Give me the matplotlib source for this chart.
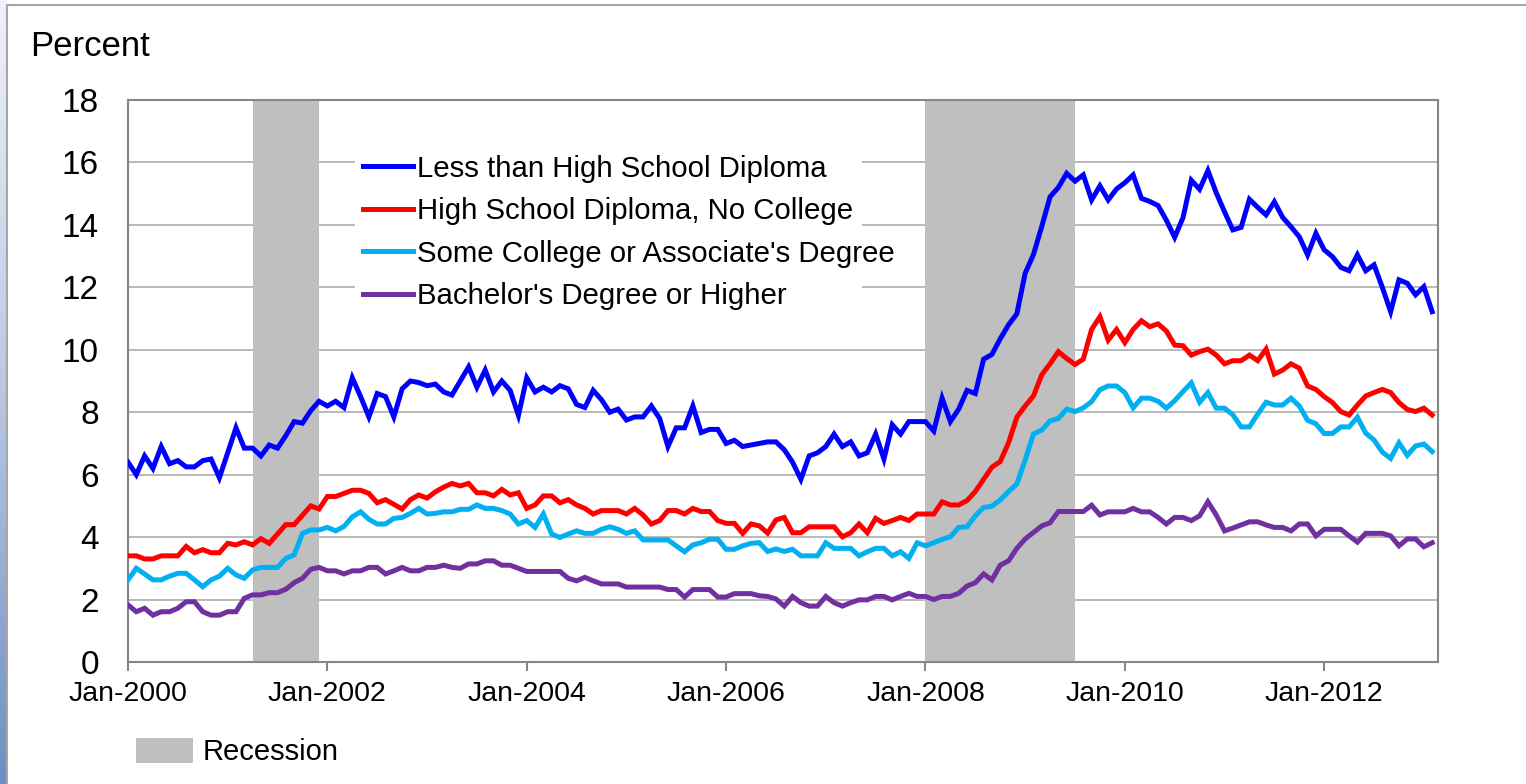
import numpy as np
import matplotlib.pyplot as plt
from matplotlib.patches import Patch, Rectangle
from matplotlib.colors import LinearSegmentedColormap

plt.rcParams['font.family'] = ['Liberation Sans', 'DejaVu Sans']

# unemployment rate by education, monthly Jan-2000 .. Feb-2013
less_hs = [
    6.4, 6.0, 6.6, 6.2, 6.9, 6.35, 6.45, 6.25, 6.25, 6.45, 6.5, 5.9,
    6.7, 7.5, 6.85, 6.85, 6.6, 6.95, 6.85, 7.25, 7.7, 7.65, 8.05, 8.35,
    8.2, 8.35, 8.15, 9.1, 8.5, 7.85, 8.6, 8.5, 7.85, 8.75, 9.0, 8.95,
    8.85, 8.9, 8.65, 8.55, 9.0, 9.45, 8.8, 9.35, 8.65, 9.0, 8.7, 7.9,
    9.1, 8.65, 8.8, 8.65, 8.85, 8.75, 8.25, 8.15, 8.7, 8.4, 8.0, 8.1,
    7.75, 7.85, 7.85, 8.2, 7.8, 6.9, 7.5, 7.5, 8.2, 7.35, 7.45, 7.45,
    7.0, 7.1, 6.9, 6.95, 7.0, 7.05, 7.05, 6.8, 6.4, 5.85, 6.6, 6.7,
    6.9, 7.3, 6.9, 7.05, 6.6, 6.7, 7.3, 6.5, 7.6, 7.3, 7.7, 7.7,
    7.7, 7.4, 8.45, 7.7, 8.1, 8.7, 8.6, 9.7, 9.85, 10.35, 10.8, 11.15,
    12.45, 13.05, 13.95, 14.9, 15.2, 15.65, 15.4, 15.6, 14.8, 15.25, 14.8, 15.15,
    15.35, 15.6, 14.85, 14.75, 14.62, 14.15, 13.6, 14.23, 15.43, 15.14, 15.74, 15.03,
    14.42, 13.84, 13.92, 14.82, 14.56, 14.32, 14.74, 14.24, 13.94, 13.62, 13.04, 13.73,
    13.2, 12.98, 12.64, 12.53, 13.04, 12.53, 12.72, 12.0, 11.22, 12.24, 12.13, 11.76,
    12.02, 11.22]

hs_only = [
    3.4, 3.4, 3.3, 3.3, 3.4, 3.4, 3.4, 3.7, 3.5, 3.6, 3.5, 3.5,
    3.8, 3.75, 3.85, 3.75, 3.95, 3.8, 4.1, 4.4, 4.4, 4.7, 5.0, 4.9,
    5.3, 5.3, 5.4, 5.5, 5.5, 5.4, 5.1, 5.2, 5.05, 4.9, 5.2, 5.35,
    5.25, 5.45, 5.6, 5.72, 5.64, 5.72, 5.42, 5.42, 5.32, 5.53, 5.35, 5.42,
    4.92, 5.03, 5.32, 5.32, 5.1, 5.2, 5.03, 4.92, 4.74, 4.85, 4.85, 4.85,
    4.74, 4.92, 4.71, 4.42, 4.53, 4.85, 4.85, 4.74, 4.92, 4.82, 4.82, 4.53,
    4.44, 4.44, 4.12, 4.42, 4.36, 4.13, 4.55, 4.63, 4.14, 4.14, 4.33, 4.33,
    4.33, 4.33, 4.01, 4.14, 4.42, 4.14, 4.6, 4.44, 4.53, 4.63, 4.53, 4.74,
    4.74, 4.74, 5.13, 5.03, 5.03, 5.17, 5.46, 5.85, 6.24, 6.42, 7.02, 7.84,
    8.2, 8.52, 9.2, 9.55, 9.94, 9.72, 9.53, 9.7, 10.65, 11.06, 10.31, 10.65,
    10.23, 10.65, 10.93, 10.74, 10.83, 10.6, 10.15, 10.13, 9.83, 9.94, 10.02, 9.83,
    9.55, 9.65, 9.65, 9.83, 9.65, 10.02, 9.22, 9.35, 9.55, 9.41, 8.84, 8.73,
    8.5, 8.31, 8.02, 7.91, 8.23, 8.52, 8.63, 8.73, 8.63, 8.31, 8.09, 8.02,
    8.13, 7.91]

some_college = [
    2.63, 3.0, 2.82, 2.63, 2.63, 2.75, 2.84, 2.84, 2.63, 2.41, 2.63, 2.75,
    3.0, 2.79, 2.68, 2.95, 3.03, 3.03, 3.03, 3.32, 3.43, 4.12, 4.23, 4.23,
    4.31, 4.2, 4.34, 4.65, 4.81, 4.57, 4.42, 4.42, 4.6, 4.63, 4.76, 4.92,
    4.74, 4.76, 4.81, 4.81, 4.89, 4.89, 5.03, 4.92, 4.92, 4.85, 4.74, 4.42,
    4.53, 4.31, 4.74, 4.1, 3.99, 4.1, 4.2, 4.12, 4.12, 4.25, 4.33, 4.25,
    4.12, 4.2, 3.91, 3.91, 3.91, 3.91, 3.72, 3.53, 3.75, 3.82, 3.93, 3.93,
    3.61, 3.61, 3.72, 3.8, 3.82, 3.54, 3.62, 3.54, 3.61, 3.4, 3.4, 3.4,
    3.82, 3.64, 3.64, 3.64, 3.4, 3.53, 3.64, 3.64, 3.4, 3.53, 3.32, 3.82,
    3.72, 3.82, 3.93, 4.01, 4.31, 4.33, 4.68, 4.95, 4.99, 5.19, 5.46, 5.7,
    6.47, 7.3, 7.43, 7.72, 7.8, 8.1, 8.02, 8.14, 8.34, 8.72, 8.84, 8.84,
    8.63, 8.14, 8.45, 8.45, 8.35, 8.13, 8.37, 8.66, 8.94, 8.32, 8.63, 8.13,
    8.13, 7.92, 7.53, 7.53, 7.94, 8.32, 8.23, 8.23, 8.45, 8.2, 7.74, 7.63,
    7.32, 7.32, 7.53, 7.53, 7.84, 7.33, 7.11, 6.72, 6.52, 7.02, 6.62, 6.92,
    6.98, 6.74]

bachelors = [
    1.83, 1.61, 1.72, 1.5, 1.61, 1.61, 1.72, 1.93, 1.93, 1.61, 1.5, 1.5,
    1.61, 1.61, 2.04, 2.15, 2.15, 2.22, 2.22, 2.33, 2.54, 2.68, 2.97, 3.03,
    2.92, 2.92, 2.82, 2.92, 2.92, 3.03, 3.03, 2.82, 2.92, 3.03, 2.92, 2.92,
    3.03, 3.03, 3.1, 3.03, 3.0, 3.14, 3.14, 3.24, 3.24, 3.1, 3.1, 3.0,
    2.9, 2.9, 2.9, 2.9, 2.9, 2.68, 2.6, 2.71, 2.6, 2.5, 2.5, 2.5,
    2.4, 2.4, 2.4, 2.4, 2.4, 2.32, 2.32, 2.08, 2.32, 2.32, 2.32, 2.08,
    2.08, 2.19, 2.19, 2.19, 2.12, 2.1, 2.02, 1.79, 2.1, 1.9, 1.79, 1.79,
    2.1, 1.9, 1.79, 1.9, 1.99, 1.99, 2.1, 2.1, 1.99, 2.1, 2.2, 2.1,
    2.1, 2.0, 2.1, 2.1, 2.2, 2.43, 2.54, 2.82, 2.63, 3.1, 3.24, 3.64,
    3.94, 4.15, 4.36, 4.46, 4.82, 4.82, 4.82, 4.82, 5.02, 4.71, 4.81, 4.81,
    4.81, 4.92, 4.81, 4.81, 4.63, 4.42, 4.63, 4.63, 4.53, 4.68, 5.13, 4.71,
    4.2, 4.29, 4.39, 4.49, 4.49, 4.39, 4.31, 4.31, 4.2, 4.42, 4.42, 4.04,
    4.25, 4.25, 4.25, 4.04, 3.84, 4.12, 4.12, 4.12, 4.04, 3.72, 3.94, 3.94,
    3.69, 3.82]

series_names = ['Less than High School Diploma',
                'High School Diploma, No College',
                "Some College or Associate's Degree",
                "Bachelor's Degree or Higher"]
series_colors = ['#0000FF', '#FF0000', '#00B0F0', '#7030A0']

# recessions as month index (0 = Jan-2000)
rec_start = [15, 96]
rec_end = [23, 114]

tick_months = [0, 24, 48, 72, 96, 120, 144]
tick_labels = ['Jan-2000', 'Jan-2002', 'Jan-2004', 'Jan-2006',
               'Jan-2008', 'Jan-2010', 'Jan-2012']

W, H = 1526, 784
fig = plt.figure(figsize=(W / 100, H / 100), dpi=100)

# slide background strip on the left + chart frame
strip = fig.add_axes([0, 0, 7 / W, 1])
cmap = LinearSegmentedColormap.from_list('bg', ['#eef1f7', '#b9c8e2', '#6f8fc4'])
strip.imshow(np.linspace(0, 1, 100).reshape(-1, 1), aspect='auto', cmap=cmap)
strip.axis('off')
fig.patches.append(Rectangle((7 / W, -0.1), 1.2, 1.1 - 5 / H, transform=fig.transFigure,
                             fill=False, edgecolor='#a6a6a6', lw=1.5))

ax = fig.add_axes([128 / W, 1 - 662 / H, (1438 - 128) / W, (662 - 100) / H])

for s, e in zip(rec_start, rec_end):
    ax.axvspan(s, e, color='#BFBFBF', lw=0, zorder=1)

months = np.arange(len(less_hs))
all_series = [less_hs, hs_only, some_college, bachelors]
for vals, name, col in zip(all_series, series_names, series_colors):
    ax.plot(months, vals, color=col, lw=3.6, label=name, zorder=3,
            solid_joinstyle='miter')

# the axis runs a little past the last month
ax.set_xlim(0, len(less_hs) - 0.3)
ax.set_ylim(0, 18)
ax.set_yticks(range(0, 19, 2))
ax.set_xticks(tick_months)
ax.set_xticklabels(tick_labels)
ax.grid(axis='y', color='#b3b3b3', lw=1.3, zorder=0)
ax.set_axisbelow(True)
for sp in ax.spines.values():
    sp.set_color('#868686')
    sp.set_linewidth(1.5)
ax.tick_params(axis='y', length=0, pad=21, labelsize=24)
ax.tick_params(axis='x', length=6.5, width=1.5, color='#868686', pad=7, labelsize=20.5)

# legend box is narrower than its longest label (text spills over the grid)
ax.add_patch(Rectangle((0.1733, 0.626), 0.387, 0.288, transform=ax.transAxes,
                       facecolor='white', edgecolor='none', zorder=2))
leg = ax.legend(loc='upper left', bbox_to_anchor=(0.1748, 0.913), fontsize=21.2,
                frameon=False, handlelength=1.7, handletextpad=0.14, labelspacing=0.49,
                borderpad=0.2, borderaxespad=0)
leg.set_zorder(5)

fig.text(30 / W, 1 - 46 / H, 'Percent', fontsize=25, va='center', ha='left')

fig.legend(handles=[Patch(facecolor='#BFBFBF', edgecolor='none', label='Recession')],
           loc='center left', bbox_to_anchor=(136 / W, 1 - 752 / H), fontsize=21,
           frameon=False, handlelength=1.95, handleheight=0.93, handletextpad=0.34,
           borderpad=0, borderaxespad=0)

fig.savefig('out.png', dpi=100)
